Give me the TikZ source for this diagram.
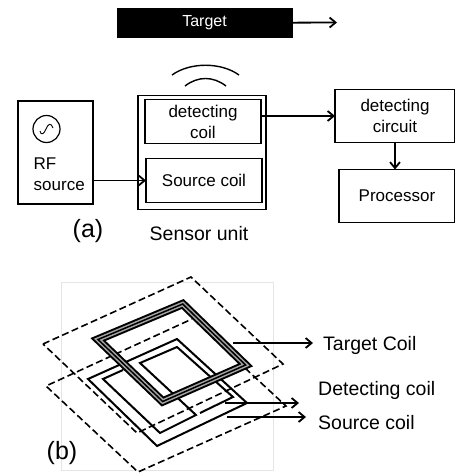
\documentclass[tikz,border=0pt]{standalone}
\usepackage{fontspec}
\setmainfont{Liberation Sans}
\usetikzlibrary{shapes.geometric, arrows.meta}
\usetikzlibrary{calc}
\tikzstyle{blockbox} = [rectangle, inner sep=0pt, outer sep=0pt, text centered, align=center, draw = black, line width=1.6pt, font=\fontsize{17}{21}\selectfont]
\tikzstyle{targetbar} = [rectangle, inner sep=0pt, outer sep=0pt, minimum width=175pt, minimum height=29pt, draw = black, fill = black, text = white, font=\fontsize{16}{20}\selectfont]
\tikzstyle{caption} = [inner sep=0pt, font=\fontsize{19.5}{23}\selectfont]
\tikzstyle{partlabel} = [inner sep=0pt, font=\fontsize{25}{30}\selectfont]
\tikzstyle{plane} = [line width=1.6pt, dash pattern=on 7pt off 3.5pt]
\tikzstyle{coil} = [line width=2pt, miter limit=10]
\tikzstyle{arrow} = [-{Straight Barb[length=6pt,width=10pt]}, line width=1.8pt]

\begin{document}
\begin{tikzpicture}[x=1pt, y=-1pt, node distance=100pt]
\useasboundingbox (0,0) rectangle (455,474);
%part (a) blocks
\node (rf) [blockbox, minimum width=75pt, minimum height=103pt] at (55.5,152.5) {};
\node (sensor) [blockbox, right of=rf, xshift=46.5pt, minimum width=128pt, minimum height=114pt] {};
\node (target) [targetbar, above of=sensor, xshift=2.5pt, yshift=29.5pt] {Target};
\node (detcoil) [blockbox, above of=sensor, xshift=1pt, yshift=-69pt, minimum width=116pt, minimum height=44pt] {detecting\\coil};
\node (srccoil) [blockbox, below of=sensor, xshift=2pt, yshift=72pt, minimum width=116pt, minimum height=44pt] {Source coil};
\node (detcircuit) [blockbox, right of=sensor, xshift=93pt, yshift=36.5pt, minimum width=120pt, minimum height=53pt] {detecting\\circuit};
\node (processor) [blockbox, below of=detcircuit, xshift=2pt, yshift=20pt, minimum width=116pt, minimum height=53pt] {Processor};
\node (sine) [circle, draw=black, line width=1.2pt, inner sep=0pt, minimum size=27pt] at (46.5,129) {};
\node (rftext) [inner sep=0pt, anchor=west, align=left, font=\fontsize{17}{21}\selectfont] at (33.5,174) {RF\\source};
\node (parta) [partlabel, below of=rf, xshift=32.5pt, yshift=21.5pt] {(a)};
\node (sensortext) [caption, below of=sensor, xshift=-3pt, yshift=19pt] {Sensor unit};
\coordinate (targetend) at (337,22.5);

%part (a) connections
\draw [arrow](target) -- (targetend);
\draw [arrow](rf.east |- srccoil.west) -- (srccoil.west);
\draw [arrow](detcoil.east |- detcircuit.west) -- (detcircuit.west);
\draw [arrow](detcircuit.south) -- (detcircuit.south |- processor.north);

%field arcs and sine
\draw [line width=1.4pt] (172,75) .. controls (190,62) and (221,62) .. (239,75);
\draw [line width=1.4pt] (185,86) .. controls (198,76) and (213,76) .. (226,86);
\draw [line width=0.9pt] (40,131) .. controls (41,136) and (44,134) .. (46,129) .. controls (48,124) and (51,122) .. (53,128);

%part (b) planes and coils
\draw [gray!20, line width=0.8pt] (61,282) rectangle (273,470);
\draw [plane] (43,344) -- (191,277) -- (283,364) -- (137,433) -- cycle;
\draw [plane] (245,368) -- (286,406) -- (138,472) -- (46,386) -- (192,319);
\draw [coil] (88,379) -- (177,339) -- (247,403) -- (157,446) -- cycle;
\draw [coil] (123,370) -- (103,379) -- (160,433) -- (196,415) -- (140,363) -- (177,347) -- (233,397) -- (200,413);
\draw [line width=8.5pt, miter limit=10] (98,339.5) -- (182.7,304) -- (245.6,365) -- (162.7,401.5) -- cycle;
\draw [line width=4.5pt, gray!70, miter limit=10] (98,339.5) -- (182.7,304) -- (245.6,365) -- (162.7,401.5) -- cycle;
\draw [line width=1.5pt, miter limit=10] (98,339.5) -- (182.7,304) -- (245.6,365) -- (162.7,401.5) -- cycle;

%part (b) labels
\node (tcoil) [caption, anchor=west] at (323,345) {Target Coil};
\node (dcoil) [caption, anchor=west] at (318,390) {Detecting coil};
\node (scoil) [caption, anchor=west] at (318,423) {Source coil};
\node (partb) [partlabel] at (62,453) {(b)};
\coordinate (tstart) at (233,343);
\coordinate (tend) at (313,343);
\coordinate (dstart) at (225,403);
\coordinate (dend) at (299,403);
\coordinate (sstart) at (227,417);
\coordinate (send) at (306,417);
\draw [arrow](tstart) -- (tend);
\draw [arrow](dstart) -- (dend);
\draw [arrow](sstart) -- (send);
\end{tikzpicture}
\end{document}
